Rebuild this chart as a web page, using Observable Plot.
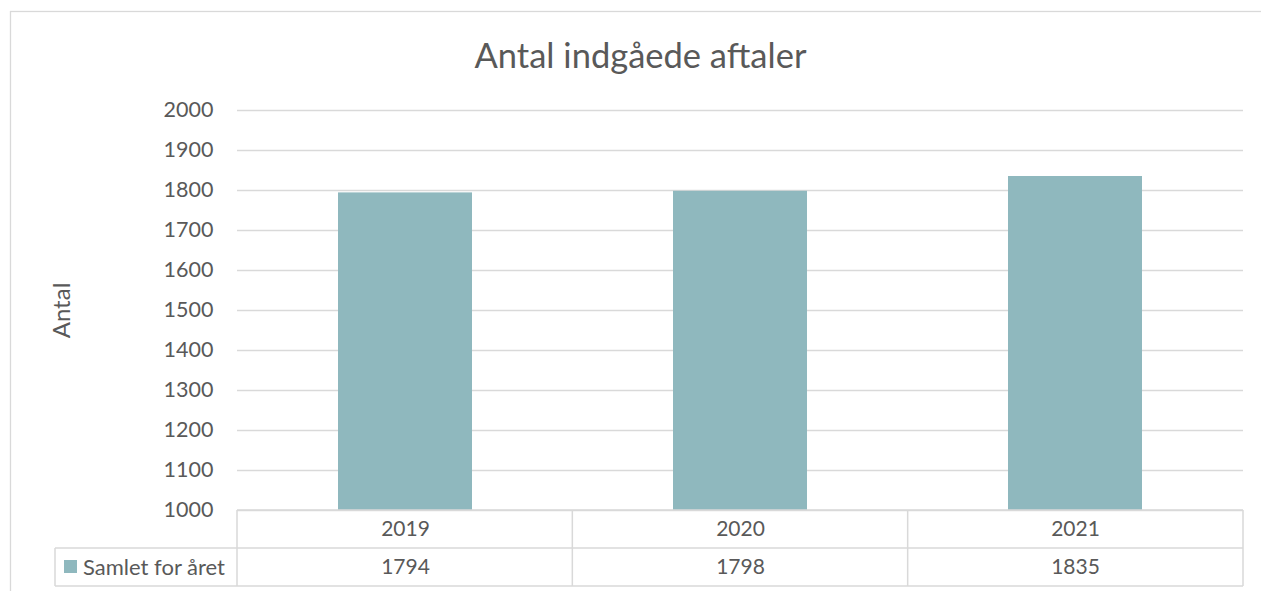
<!DOCTYPE html>
<html>
<head>
<meta charset="utf-8">
<script src="https://cdn.jsdelivr.net/npm/d3@7"></script>
<script src="https://cdn.jsdelivr.net/npm/@observablehq/plot@0.6"></script>
<style>
  html, body { margin: 0; padding: 0; background: #fff; }
  #chart { width: 1261px; height: 591px; overflow: hidden; }
</style>
</head>
<body>
<div id="chart"></div>
<script>
// ---- data ----
const years = ["2019", "2020", "2021"];
const values = [1794, 1798, 1835];
const seriesName = "Samlet for året";
const yTicks = [1000, 1100, 1200, 1300, 1400, 1500, 1600, 1700, 1800, 1900, 2000];
const titleText = "Antal indgåede aftaler";
const yLabel = "Antal";

const data = years.map((y, i) => ({year: y, value: values[i]}));
const yMin = yTicks[0], yMax = yTicks[yTicks.length - 1];

const FONT = "Lato, 'Open Sans', sans-serif";
const TEXT = "#595959";
const GRID = "#D9D9D9";
const BAR = "#8FB8BE";

const W = 1261, H = 591;
const mL = 237, mR = 18, mT = 110, mB = 81;
const frameCenter = (mL + (W - mR)) / 2;
const titleCenter = 640;

const plot = Plot.plot({
  width: W,
  height: H,
  marginLeft: mL,
  marginRight: mR,
  marginTop: mT,
  marginBottom: mB,
  style: {fontFamily: FONT, color: TEXT, background: "#fff", overflow: "visible"},
  x: {domain: years, paddingInner: 0.6, paddingOuter: 0.3, axis: null},
  y: {domain: [yMin, yMax], axis: null},
  marks: [
    Plot.ruleY(yTicks, {stroke: GRID, strokeWidth: 1.3}),
    Plot.rectY(data, {x: "year", y1: yMin, y2: "value", fill: BAR}),
    Plot.text(yTicks, {y: d => d, text: d => String(d), frameAnchor: "left", dx: -24, textAnchor: "end", fontSize: 21.5, fill: TEXT}),
    Plot.text([yLabel], {frameAnchor: "left", dx: -175, rotate: -90, textAnchor: "middle", lineAnchor: "middle", fontSize: 24, fill: TEXT}),
    Plot.text([titleText], {frameAnchor: "top", dx: titleCenter - frameCenter, dy: -54, lineAnchor: "middle", fontSize: 34.5, fill: TEXT}),
    Plot.text(data, {x: "year", text: "year", frameAnchor: "bottom", dy: 19, lineAnchor: "middle", fontSize: 21, fill: TEXT}),
    Plot.text(data, {x: "year", text: d => String(d.value), frameAnchor: "bottom", dy: 57, lineAnchor: "middle", fontSize: 21, fill: TEXT})
  ]
});

document.getElementById("chart").appendChild(plot);

// ---- data table grid & legend drawn from the x scale ----
const xs = plot.scale("x");
const svg = d3.select(plot);
const x0 = xs.range[0], x1 = xs.range[1];
const step = (x1 - x0) / years.length;
const rowTop = H - mB, rowMid = rowTop + 38, rowBot = rowTop + 76;
const legendLeft = 55;

const g = svg.insert("g", ":first-child");
// chart area border
g.append("rect").attr("x", 10.5).attr("y", 11.5).attr("width", W + 20).attr("height", H + 20)
  .attr("fill", "#fff").attr("stroke", GRID).attr("stroke-width", 1.3);

const t = svg.append("g").attr("stroke", GRID).attr("stroke-width", 1.5).attr("fill", "none");
t.append("line").attr("x1", x0).attr("x2", x1).attr("y1", rowTop).attr("y2", rowTop);
t.append("line").attr("x1", legendLeft).attr("x2", x1).attr("y1", rowMid).attr("y2", rowMid);
t.append("line").attr("x1", legendLeft).attr("x2", x1).attr("y1", rowBot).attr("y2", rowBot);
t.append("line").attr("x1", legendLeft).attr("x2", legendLeft).attr("y1", rowMid).attr("y2", rowBot);
for (let i = 0; i <= years.length; i++) {
  const xx = x0 + i * step;
  t.append("line").attr("x1", xx).attr("x2", xx).attr("y1", rowTop).attr("y2", rowBot);
}
// legend key
svg.append("rect").attr("x", 64).attr("y", rowMid + 12).attr("width", 13).attr("height", 13).attr("fill", BAR);
svg.append("text").attr("x", 83).attr("y", rowMid + 19).attr("dy", "0.35em")
  .attr("text-anchor", "start")
  .attr("font-size", 22).attr("fill", TEXT).attr("font-family", FONT).text(seriesName);
</script>
</body>
</html>
